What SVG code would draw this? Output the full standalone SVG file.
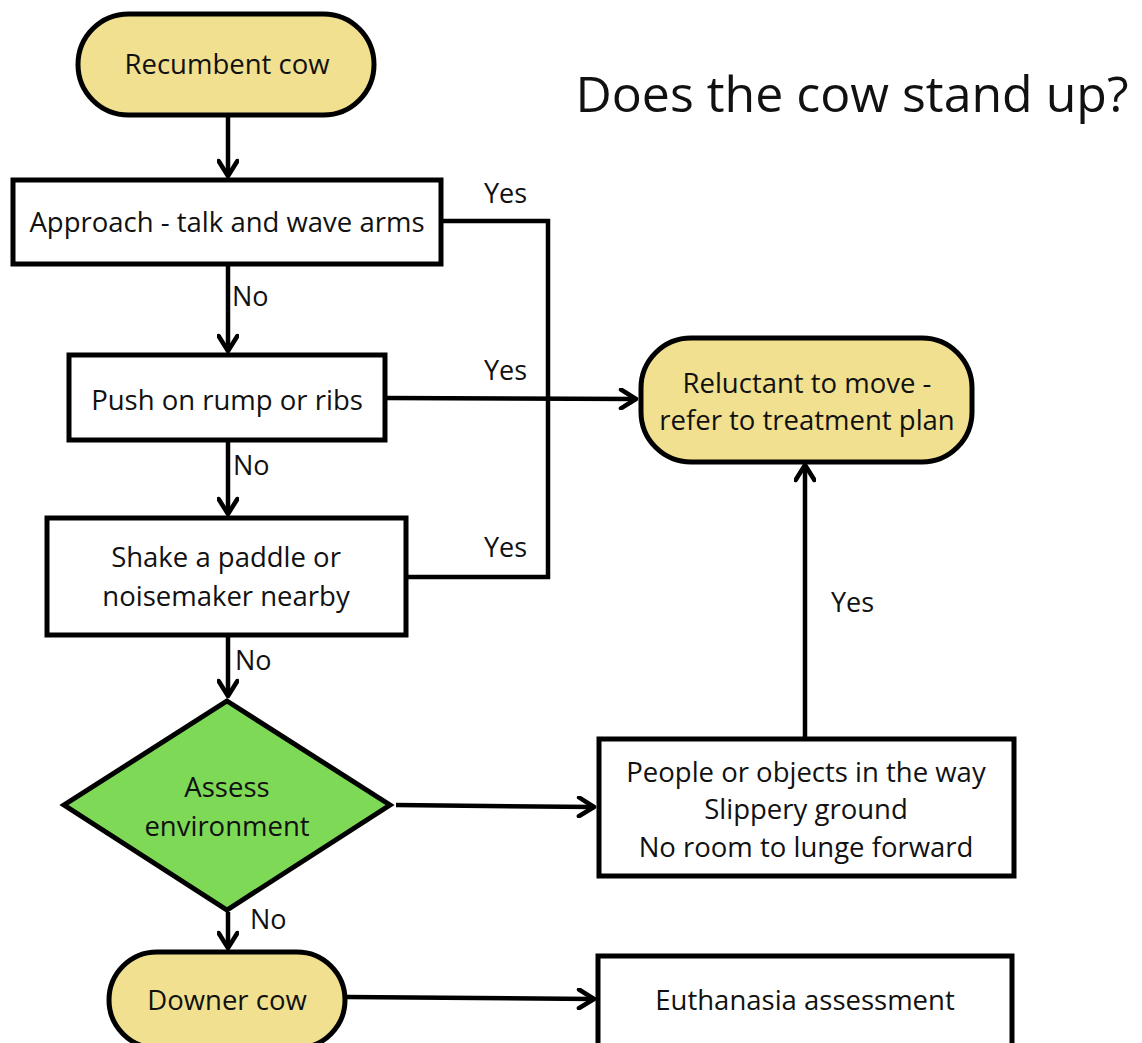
<svg xmlns="http://www.w3.org/2000/svg" width="1142" height="1043" viewBox="0 0 1142 1043">
<style>
text{font-family:"Open Sans","Liberation Sans",sans-serif;fill:#111;}
.n{font-size:27.5px;text-anchor:middle;}
.l{font-size:27px;}
.box{fill:#fff;stroke:#000;stroke-width:5;}
.term{fill:#f0e08f;stroke:#000;stroke-width:5;}
.c{fill:none;stroke:#000;stroke-width:4.5;}
</style>
<defs>
<marker id="ah" viewBox="0 0 12 12" refX="10" refY="6" markerWidth="5" markerHeight="5" orient="auto" markerUnits="strokeWidth">
<path d="M2,1 L10,6 L2,11" fill="none" stroke="#000" stroke-width="2.4" stroke-linecap="round" stroke-linejoin="round"/>
</marker>
</defs>
<rect width="1142" height="1043" fill="#fff"/>
<text x="852" y="112" style="font-size:50px;text-anchor:middle">Does the cow stand up?</text>
<g id="connectors">
<line class="c" x1="228" y1="116" x2="228" y2="176" marker-end="url(#ah)"/>
<line class="c" x1="228" y1="265" x2="228" y2="351" marker-end="url(#ah)"/>
<line class="c" x1="228" y1="441" x2="228" y2="514" marker-end="url(#ah)"/>
<line class="c" x1="228" y1="636" x2="228" y2="696" marker-end="url(#ah)"/>
<line class="c" x1="228" y1="912" x2="228" y2="948" marker-end="url(#ah)"/>
<polyline class="c" points="442,221 548,221 548,577 407,577"/>
<line class="c" x1="386" y1="398" x2="636" y2="399" marker-end="url(#ah)"/>
<line class="c" x1="396" y1="805" x2="594" y2="807" marker-end="url(#ah)"/>
<line class="c" x1="805" y1="737" x2="805" y2="465" marker-end="url(#ah)"/>
<line class="c" x1="346" y1="997" x2="594" y2="999" marker-end="url(#ah)"/>
<text class="l" x="484" y="203">Yes</text>
<text class="l" x="484" y="380">Yes</text>
<text class="l" x="484" y="557">Yes</text>
<text class="l" x="831" y="612">Yes</text>
<text class="l" x="232" y="306">No</text>
<text class="l" x="233" y="475">No</text>
<text class="l" x="235" y="670">No</text>
<text class="l" x="250" y="929">No</text>
</g>
<g id="recumbent">
<rect class="term" x="78" y="14" width="296" height="101" rx="50.5"/>
<text class="n" x="227" y="74">Recumbent cow</text>
</g>
<g id="approach">
<rect class="box" x="13" y="180" width="428" height="84"/>
<text class="n" x="227" y="232">Approach - talk and wave arms</text>
</g>
<g id="push">
<rect class="box" x="69" y="355" width="316" height="85"/>
<text class="n" x="227" y="410">Push on rump or ribs</text>
</g>
<g id="shake">
<rect class="box" x="47" y="518" width="359" height="117"/>
<text class="n" x="226" y="567">Shake a paddle or</text>
<text class="n" x="226" y="606">noisemaker nearby</text>
</g>
<g id="assess">
<polygon points="227,701 390,805 227,910 64,805" fill="#7ed957" stroke="#000" stroke-width="5" stroke-linejoin="miter"/>
<text class="n" x="227" y="797">Assess</text>
<text class="n" x="227" y="836">environment</text>
</g>
<g id="downer">
<rect class="term" x="109" y="952" width="236" height="96" rx="48"/>
<text class="n" x="227" y="1010">Downer cow</text>
</g>
<g id="reluctant">
<rect class="term" x="641" y="338" width="331" height="124" rx="50"/>
<text class="n" x="807" y="393">Reluctant to move -</text>
<text class="n" x="807" y="430">refer to treatment plan</text>
</g>
<g id="people">
<rect class="box" x="599" y="739" width="415" height="137"/>
<text class="n" x="806" y="782">People or objects in the way</text>
<text class="n" x="806" y="819">Slippery ground</text>
<text class="n" x="806" y="857">No room to lunge forward</text>
</g>
<g id="euthanasia">
<rect class="box" x="598" y="956" width="414" height="92"/>
<text class="n" x="805" y="1010">Euthanasia assessment</text>
</g>
</svg>
